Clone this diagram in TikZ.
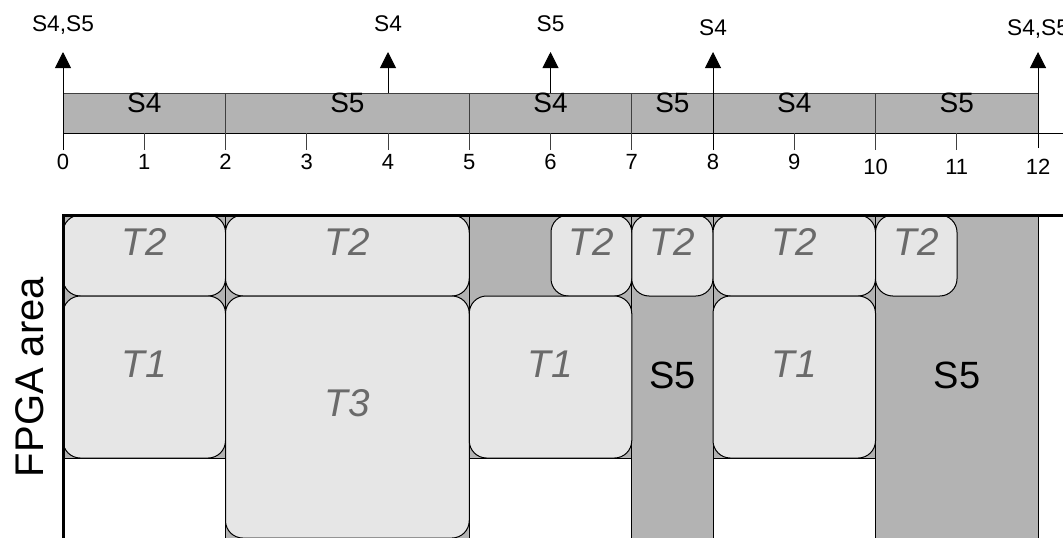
\documentclass[tikz,border=0pt]{standalone}
\usepackage{fontspec}
\setmainfont{Liberation Sans}
\usetikzlibrary{fit,arrows.meta}
\definecolor{barfill}{HTML}{B3B3B3}
\definecolor{boxfill}{HTML}{E6E6E6}
\definecolor{tgray}{HTML}{6A6A6A}
\definecolor{edgegray}{HTML}{404040}
\begin{document}
\begin{tikzpicture}[x=0.75pt,y=-0.75pt,
  seg/.style={draw=edgegray, fill=barfill, inner sep=0pt, line width=0.75pt, font=\fontsize{21}{25}\selectfont},
  toplab/.style={anchor=base, inner sep=0pt, font=\fontsize{17}{20}\selectfont},
  num/.style={anchor=base, inner sep=0pt, font=\fontsize{16.5}{19}\selectfont},
  colbg/.style={draw=black, fill=barfill, line width=0.75pt},
  tbox/.style={draw=black, fill=boxfill, rounded corners=13pt, inner sep=0pt, line width=0.75pt, text=tgray, font=\fontsize{29}{34}\selectfont\itshape, text depth=4.5pt},
  biglab/.style={anchor=base, inner sep=0pt, font=\fontsize{28.5}{34}\selectfont},
  arr/.style={-{Triangle[width=12pt,length=12pt]}, line width=0.75pt, draw=black},
  tickline/.style={line width=0.75pt, draw=edgegray},
  frame/.style={line width=2.25pt, draw=black}
]
\useasboundingbox (0,0) rectangle (1063,537);

% ---------- timeline ----------
\node[seg, fit={(63,93) (225.5,133)}] (s1) {S4};
\node[seg, fit={(225.5,93) (469.25,133)}] (s2) {S5};
\node[seg, fit={(469.25,93) (631.75,133)}] (s3) {S4};
\node[seg, fit={(631.75,93) (713,133)}] (s4) {S5};
\node[seg, fit={(713,93) (875.5,133)}] (s5) {S4};
\node[seg, fit={(875.5,93) (1038,133)}] (s6) {S5};

\coordinate (hl0) at (63,133);
\coordinate (hl1) at (1063,133);
\draw[line width=0.75pt] (hl0) -- (hl1);

% boundaries
\foreach \x/\n in {225.5/2,469.25/5,631.75/7,875.5/10}{
  \coordinate (bt\n) at (\x,93);
  \coordinate (bb\n) at (\x,150);
  \draw[tickline] (bt\n) -- (bb\n);
}
% minor ticks
\foreach \x/\n in {144.25/1,306.75/3,388/4,550.5/6,794.25/9,956.75/11}{
  \coordinate (mt\n) at (\x,133);
  \coordinate (mb\n) at (\x,150);
  \draw[tickline] (mt\n) -- (mb\n);
}
% numbers
\foreach \x/\n in {63/0,144.25/1,225.5/2,306.75/3,388/4,469.25/5,550.5/6,631.75/7,713/8,794.25/9}{
  \node[num] (n\n) at (\x,169.5) {\n};
}
\foreach \x/\n in {875.5/10,956.75/11,1038/12}{
  \node[num] (n\n) at (\x,174.5) {\n};
}

% arrows
\coordinate (a0b) at (63,150);   \coordinate (a0t) at (63,52);
\coordinate (a4b) at (388,93);   \coordinate (a4t) at (388,52);
\coordinate (a6b) at (550.5,93); \coordinate (a6t) at (550.5,52);
\coordinate (a8b) at (713,150);  \coordinate (a8t) at (713,52);
\coordinate (a12b) at (1038,148); \coordinate (a12t) at (1038,52);
\draw[arr] (a0b) -- (a0t);
\draw[arr] (a4b) -- (a4t);
\draw[arr] (a6b) -- (a6t);
\draw[arr] (a8b) -- (a8t);
\draw[arr] (a12b) -- (a12t);

\node[toplab] (l0) at (63,31) {S4,S5};
\node[toplab] (l4) at (388,31.5) {S4};
\node[toplab] (l6) at (550.5,31.5) {S5};
\node[toplab] (l8) at (713,35) {S4};
\node[toplab] (l12) at (1038,35) {S4,S5};

% ---------- FPGA area ----------
\draw[colbg] (63,215) rectangle (225.5,458);
\draw[colbg] (225.5,215) rectangle (469.25,545);
\draw[colbg] (469.25,215) rectangle (631.75,458);
\draw[colbg] (631.75,215) rectangle (713,545);
\draw[colbg] (713,215) rectangle (875.5,458);
\draw[colbg] (875.5,215) rectangle (1038,545);

\node[tbox, fit={(63,215) (225.5,296)}] (a2) {T2};
\node[tbox, fit={(63,296) (225.5,458)}] (a1) {T1};
\node[tbox, fit={(225.5,215) (469.25,296)}] (b2) {T2};
\node[tbox, fit={(225.5,296) (469.25,538)}] (b3) {T3};
\node[tbox, fit={(551,215) (631.75,296)}] (c2) {T2};
\node[tbox, fit={(469.25,296) (631.75,458)}] (c1) {T1};
\node[tbox, fit={(631.75,215) (713,296)}] (d2) {T2};
\node[tbox, fit={(713,215) (875.5,296)}] (e2) {T2};
\node[tbox, fit={(713,296) (875.5,458)}] (e1) {T1};
\node[tbox, fit={(875.5,215) (957,296)}] (f2) {T2};

\node[biglab] (d5) at (672.5,388) {S5};
\node[biglab] (f5) at (957,388) {S5};

\coordinate (fbl) at (63.5,545);
\coordinate (ftl) at (63.5,215);
\coordinate (ftr) at (1065,215);
\draw[frame] (fbl) -- (ftl) -- (ftr);

\node[rotate=90, anchor=base, inner sep=0pt, font=\fontsize{30}{36}\selectfont] (fpga) at (43,377) {FPGA area};
\end{tikzpicture}
\end{document}
